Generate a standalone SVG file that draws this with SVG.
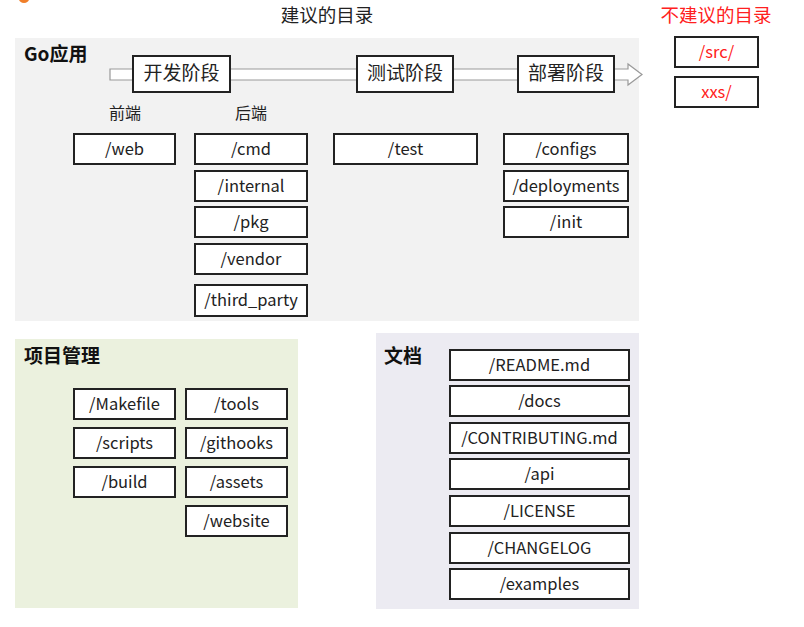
<svg xmlns="http://www.w3.org/2000/svg" width="804" height="627" viewBox="0 0 804 627">
<style>
  .t { font-family: "Noto Sans CJK SC", "Noto Sans", sans-serif; fill: #222; }
  .box { fill: #fff; stroke: #222; stroke-width: 2; }
  .bt { font-family: "Noto Sans CJK SC", "Noto Sans", sans-serif; font-size: 16.5px; fill: #222; text-anchor: middle; }
  .st { font-family: "Noto Sans CJK SC", "Noto Sans", sans-serif; font-size: 19px; fill: #222; text-anchor: middle; }
  .hd { font-family: "Noto Sans CJK SC", "Noto Sans", sans-serif; font-size: 19px; font-weight: bold; fill: #111; }
  .red { fill: #ff2020; }
</style>
<rect width="804" height="627" fill="#fff"/>
<ellipse cx="24" cy="-1" rx="5" ry="4" fill="#f07f2a"/>

<g id="titles">
  <text class="t" x="327" y="21.5" font-size="18.5" text-anchor="middle">建议的目录</text>
  <text class="t red" x="716" y="21.5" font-size="18.5" text-anchor="middle">不建议的目录</text>
</g>

<g id="panel-go">
  <rect x="15" y="38" width="624" height="283" fill="#f2f2f2"/>
  <text class="hd" x="24" y="61">Go应用</text>
  <text class="t" x="125" y="119" font-size="16" text-anchor="middle">前端</text>
  <text class="t" x="251" y="119" font-size="16" text-anchor="middle">后端</text>
</g>
<g id="panel-pm">
  <rect x="15" y="339" width="283" height="269" fill="#ebf1de"/>
  <text class="hd" x="24" y="363">项目管理</text>
</g>
<g id="panel-doc">
  <rect x="376" y="333" width="263" height="276" fill="#ecebf2"/>
  <text class="hd" x="384" y="363">文档</text>
</g>

<g id="connectors">
  <path d="M110,69 L628,69 L628,64 L642,74.5 L628,85 L628,80 L110,80 Z" fill="#fff" stroke="#999" stroke-width="1.2"/>
</g>

<g id="stage-dev"><rect class="box" x="133" y="56" width="97" height="36"/><text class="st" x="181.5" y="80">开发阶段</text></g>
<g id="stage-test"><rect class="box" x="357" y="56" width="96" height="36"/><text class="st" x="405" y="80">测试阶段</text></g>
<g id="stage-deploy"><rect class="box" x="518" y="56" width="96" height="36"/><text class="st" x="566" y="80">部署阶段</text></g>

<g id="web"><rect class="box" x="74" y="134" width="101" height="30"/><text class="bt" x="124.5" y="155">/web</text></g>
<g id="cmd"><rect class="box" x="195" y="134" width="112" height="30"/><text class="bt" x="251" y="155">/cmd</text></g>
<g id="internal"><rect class="box" x="195" y="171" width="112" height="30"/><text class="bt" x="251" y="192">/internal</text></g>
<g id="pkg"><rect class="box" x="195" y="207" width="112" height="30"/><text class="bt" x="251" y="228">/pkg</text></g>
<g id="vendor"><rect class="box" x="195" y="244" width="112" height="30"/><text class="bt" x="251" y="265">/vendor</text></g>
<g id="third_party"><rect class="box" x="195" y="285" width="112" height="31"/><text class="bt" x="251" y="306">/third_party</text></g>
<g id="test"><rect class="box" x="334" y="134" width="143" height="30"/><text class="bt" x="405.5" y="155">/test</text></g>
<g id="configs"><rect class="box" x="504" y="134" width="124" height="30"/><text class="bt" x="566" y="155">/configs</text></g>
<g id="deployments"><rect class="box" x="504" y="171" width="124" height="30"/><text class="bt" x="566" y="192">/deployments</text></g>
<g id="init"><rect class="box" x="504" y="207" width="124" height="30"/><text class="bt" x="566" y="228">/init</text></g>

<g id="src"><rect class="box" x="675" y="37" width="83" height="30"/><text class="bt red" x="716.5" y="58">/src/</text></g>
<g id="xxs"><rect class="box" x="675" y="77" width="83" height="30"/><text class="bt red" x="716.5" y="98">xxs/</text></g>

<g id="makefile"><rect class="box" x="74" y="389" width="101" height="30"/><text class="bt" x="124.5" y="410">/Makefile</text></g>
<g id="scripts"><rect class="box" x="74" y="428" width="101" height="30"/><text class="bt" x="124.5" y="449">/scripts</text></g>
<g id="build"><rect class="box" x="74" y="467" width="101" height="30"/><text class="bt" x="124.5" y="488">/build</text></g>
<g id="tools"><rect class="box" x="186" y="389" width="101" height="30"/><text class="bt" x="236.5" y="410">/tools</text></g>
<g id="githooks"><rect class="box" x="186" y="428" width="101" height="30"/><text class="bt" x="236.5" y="449">/githooks</text></g>
<g id="assets"><rect class="box" x="186" y="467" width="101" height="30"/><text class="bt" x="236.5" y="488">/assets</text></g>
<g id="website"><rect class="box" x="186" y="506" width="101" height="30"/><text class="bt" x="236.5" y="527">/website</text></g>

<g id="readme"><rect class="box" x="450" y="350" width="179" height="30"/><text class="bt" x="539.5" y="371">/README.md</text></g>
<g id="docs"><rect class="box" x="450" y="386" width="179" height="30"/><text class="bt" x="539.5" y="407">/docs</text></g>
<g id="contributing"><rect class="box" x="450" y="423" width="179" height="30"/><text class="bt" x="539.5" y="444">/CONTRIBUTING.md</text></g>
<g id="api"><rect class="box" x="450" y="459" width="179" height="30"/><text class="bt" x="539.5" y="480">/api</text></g>
<g id="license"><rect class="box" x="450" y="496" width="179" height="30"/><text class="bt" x="539.5" y="517">/LICENSE</text></g>
<g id="changelog"><rect class="box" x="450" y="533" width="179" height="30"/><text class="bt" x="539.5" y="554">/CHANGELOG</text></g>
<g id="examples"><rect class="box" x="450" y="569" width="179" height="30"/><text class="bt" x="539.5" y="590">/examples</text></g>
</svg>
